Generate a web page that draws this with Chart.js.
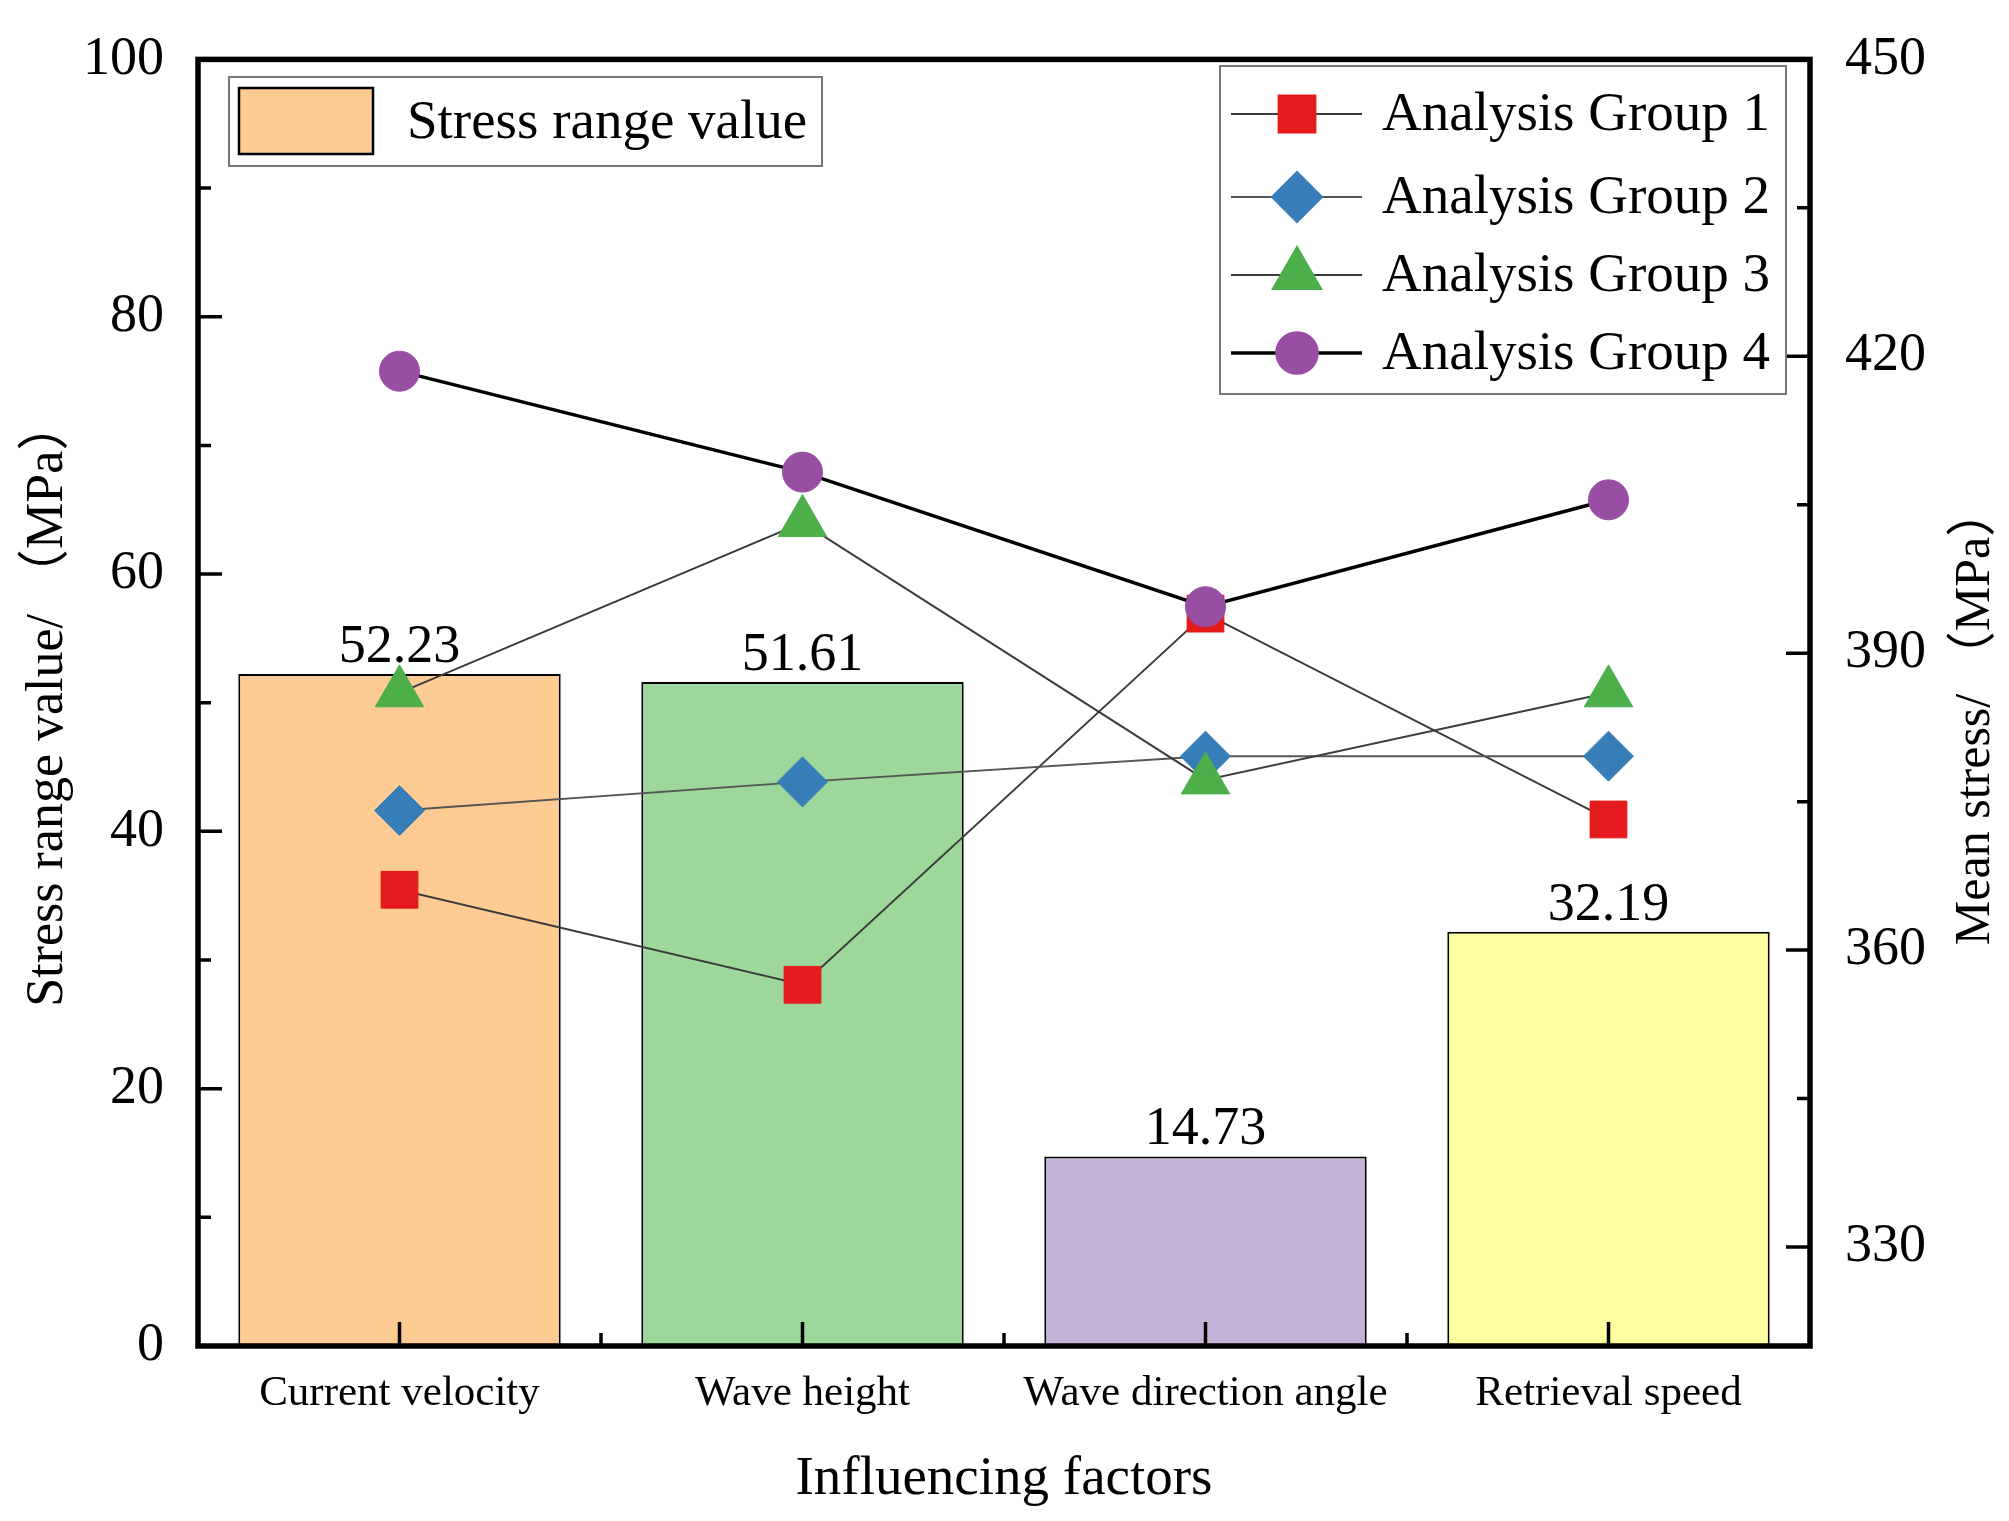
<!DOCTYPE html>
<html>
<head>
<meta charset="utf-8">
<script src="https://cdn.jsdelivr.net/npm/chart.js@4/dist/chart.umd.min.js"></script>
<style>
html, body { margin: 0; padding: 0; background: #fff; }
canvas { display: block; }
</style>
</head>
<body>
<canvas id="chart" width="2009" height="1521"></canvas>
<script>
// data
var factors = ['Current velocity', 'Wave height', 'Wave direction angle', 'Retrieval speed'];
var stressRange = [52.23, 51.61, 14.73, 32.19];
var group1 = [366.1, 356.5, 394.0, 373.2];
var group2 = [374.1, 377.0, 379.6, 379.6];
var group3 = [386.0, 403.2, 377.2, 386.0];
var group4 = [418.5, 408.3, 394.7, 405.5];
var leftTicks = [0, 20, 40, 60, 80, 100];
var leftMinor = [10, 30, 50, 70, 90];
var rightTicks = [330, 360, 390, 420, 450];
var rightMinor = [345, 375, 405, 435];
var rightTitle = 'Mean stress/ （MPa）';

var serif = "'Liberation Serif', 'Noto Sans CJK SC', serif";
var barColors = ['#fecc92', '#9ed79b', '#c5b3d7', '#fffe9f'];

// bar value labels
var barLabels = {
	id: 'barLabels',
	afterDatasetsDraw: function(chart) {
		var ctx = chart.ctx;
		var meta = chart.getDatasetMeta(0);
		ctx.save();
		ctx.fillStyle = '#000';
		ctx.font = '54px ' + serif;
		ctx.textAlign = 'center';
		ctx.textBaseline = 'alphabetic';
		meta.data.forEach(function(bar, i) {
			ctx.fillText(stressRange[i].toFixed(2), bar.x, bar.y - 12);
		});
		ctx.restore();
	}
};

// frame + inward ticks + right title (reads upward like the left one)
var frame = {
	id: 'frame',
	afterDatasetsDraw: function(chart) {
		var ctx = chart.ctx;
		var ca = chart.chartArea;
		var sx = chart.scales.x, sy = chart.scales.y, sy1 = chart.scales.y1;
		ctx.save();
		ctx.strokeStyle = '#000';
		ctx.lineWidth = 3.5;
		ctx.beginPath();
		leftTicks.forEach(function(v) {
			var y = sy.getPixelForValue(v);
			ctx.moveTo(ca.left, y); ctx.lineTo(ca.left + 24, y);
		});
		leftMinor.forEach(function(v) {
			var y = sy.getPixelForValue(v);
			ctx.moveTo(ca.left, y); ctx.lineTo(ca.left + 13, y);
		});
		rightTicks.forEach(function(v) {
			var y = sy1.getPixelForValue(v);
			ctx.moveTo(ca.right, y); ctx.lineTo(ca.right - 24, y);
		});
		rightMinor.forEach(function(v) {
			var y = sy1.getPixelForValue(v);
			ctx.moveTo(ca.right, y); ctx.lineTo(ca.right - 13, y);
		});
		factors.forEach(function(f, i) {
			var x = sx.getPixelForValue(i);
			ctx.moveTo(x, ca.bottom); ctx.lineTo(x, ca.bottom - 24);
			if (i < factors.length - 1) {
				var xm = (x + sx.getPixelForValue(i + 1)) / 2;
				ctx.moveTo(xm, ca.bottom); ctx.lineTo(xm, ca.bottom - 13);
			}
		});
		ctx.stroke();
		ctx.lineWidth = 5.5;
		ctx.strokeRect(ca.left, ca.top, ca.right - ca.left, ca.bottom - ca.top);

		ctx.translate(1976, 716);
		ctx.rotate(-Math.PI / 2);
		ctx.fillStyle = '#000';
		ctx.font = '50px ' + serif;
		ctx.textAlign = 'center';
		ctx.textBaseline = 'middle';
		ctx.fillText(rightTitle, 0, 0);
		ctx.restore();
	}
};

// two boxed legends
var legends = {
	id: 'legends',
	afterDraw: function(chart) {
		var ctx = chart.ctx;
		var ds = chart.data.datasets;
		ctx.save();
		ctx.fillStyle = '#fff';
		ctx.strokeStyle = '#777';
		ctx.lineWidth = 2;
		ctx.fillRect(229, 77, 593, 89);
		ctx.strokeRect(229, 77, 593, 89);
		ctx.fillStyle = barColors[0];
		ctx.fillRect(239, 88, 134, 66);
		ctx.strokeStyle = '#000';
		ctx.lineWidth = 2.5;
		ctx.strokeRect(239, 88, 134, 66);
		ctx.fillStyle = '#000';
		ctx.font = '55px ' + serif;
		ctx.textBaseline = 'middle';
		ctx.textAlign = 'left';
		ctx.fillText(ds[0].label, 407, 124);

		ctx.fillStyle = '#fff';
		ctx.strokeStyle = '#777';
		ctx.lineWidth = 2;
		ctx.fillRect(1220, 66, 566, 328);
		ctx.strokeRect(1220, 66, 566, 328);
		var rows = [114, 197, 275, 353];
		for (var i = 1; i <= 4; i++) {
			var d = ds[i];
			var y = rows[i - 1];
			ctx.strokeStyle = d.borderColor;
			ctx.lineWidth = d.borderWidth;
			ctx.beginPath();
			ctx.moveTo(1231, y); ctx.lineTo(1362, y);
			ctx.stroke();
			ctx.fillStyle = d.pointBackgroundColor;
			ctx.strokeStyle = d.pointBackgroundColor;
			Chart.helpers.drawPoint(ctx, {pointStyle: d.pointStyle, radius: d.pointRadius, rotation: 0, borderWidth: 1}, 1297, y);
			ctx.fillStyle = '#000';
			ctx.fillText(d.label, 1382, y + 2);
		}
		ctx.restore();
	}
};

new Chart(document.getElementById('chart'), {
	data: {
		labels: factors,
		datasets: [
			{
				type: 'bar',
				label: 'Stress range value',
				data: stressRange,
				backgroundColor: barColors,
				borderColor: '#000',
				borderWidth: 2,
				barPercentage: 0.8,
				categoryPercentage: 1,
				yAxisID: 'y',
				order: 5
			},
			{
				type: 'line',
				label: 'Analysis Group 1',
				data: group1,
				yAxisID: 'y1',
				borderColor: '#3c3c3c',
				borderWidth: 2,
				pointStyle: 'rect',
				pointRadius: 26,
				pointBackgroundColor: '#e41a1c',
				pointBorderColor: '#e41a1c',
				pointBorderWidth: 1,
				order: 4
			},
			{
				type: 'line',
				label: 'Analysis Group 2',
				data: group2,
				yAxisID: 'y1',
				borderColor: '#555555',
				borderWidth: 2,
				pointStyle: 'rectRot',
				pointRadius: 25,
				pointBackgroundColor: '#377eb8',
				pointBorderColor: '#377eb8',
				pointBorderWidth: 1,
				order: 3
			},
			{
				type: 'line',
				label: 'Analysis Group 3',
				data: group3,
				yAxisID: 'y1',
				borderColor: '#3c3c3c',
				borderWidth: 2,
				pointStyle: 'triangle',
				pointRadius: 28,
				pointBackgroundColor: '#4daf4a',
				pointBorderColor: '#4daf4a',
				pointBorderWidth: 1,
				order: 2
			},
			{
				type: 'line',
				label: 'Analysis Group 4',
				data: group4,
				yAxisID: 'y1',
				borderColor: '#000000',
				borderWidth: 3.5,
				pointStyle: 'circle',
				pointRadius: 20,
				pointBackgroundColor: '#984ea3',
				pointBorderColor: '#984ea3',
				pointBorderWidth: 1,
				order: 1
			}
		]
	},
	options: {
		responsive: false,
		devicePixelRatio: 1,
		animation: false,
		layout: { padding: { top: 46, left: 0, right: 0, bottom: 0 } },
		plugins: { legend: { display: false }, tooltip: { enabled: false } },
		scales: {
			x: {
				type: 'category',
				offset: true,
				grid: { display: false },
				border: { display: false },
				ticks: { color: '#000', font: { family: serif, size: 43 }, padding: 14, maxRotation: 0, autoSkip: false },
				title: { display: true, text: 'Influencing factors', color: '#000', font: { family: serif, size: 55, lineHeight: 1 }, padding: { top: 0, bottom: 14 } },
				afterFit: function(s) { s.height = 175; }
			},
			y: {
				position: 'left',
				min: 0,
				max: 100,
				afterBuildTicks: function(s) { s.ticks = leftTicks.map(function(v) { return {value: v}; }); },
				grid: { display: false },
				border: { display: false },
				ticks: { color: '#000', font: { family: serif, size: 54 }, padding: 26 },
				title: { display: true, text: 'Stress range value/ （MPa）', color: '#000', font: { family: serif, size: 52, lineHeight: 1 }, padding: { top: 22, bottom: 0 } },
				afterFit: function(s) { s.width = 198; }
			},
			y1: {
				position: 'right',
				min: 320,
				max: 450,
				afterBuildTicks: function(s) { s.ticks = rightTicks.map(function(v) { return {value: v}; }); },
				grid: { display: false },
				border: { display: false },
				ticks: { color: '#000', font: { family: serif, size: 54 }, padding: 27 },
				title: { display: false },
				afterFit: function(s) { s.width = 199; }
			}
		}
	},
	plugins: [barLabels, frame, legends]
});
</script>
</body>
</html>
